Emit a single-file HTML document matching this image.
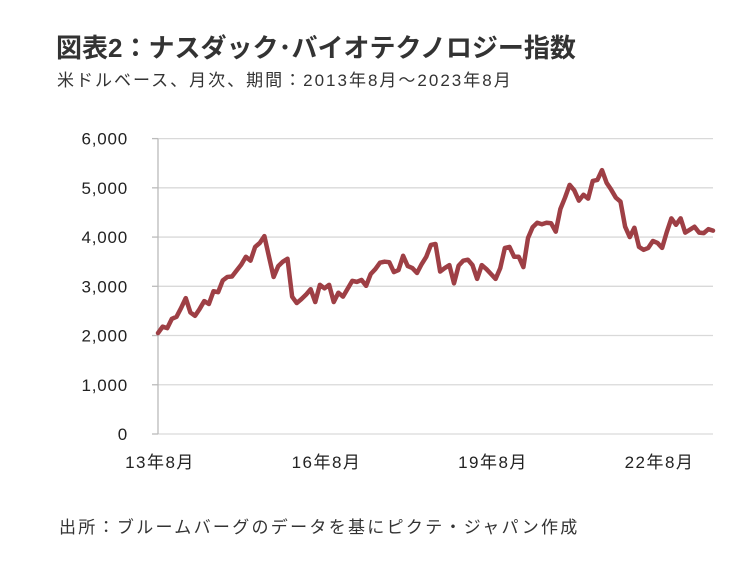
<!DOCTYPE html>
<html><head><meta charset="utf-8">
<style>
body{margin:0;background:#fff;width:735px;height:561px;overflow:hidden;font-family:"Liberation Sans","Noto Sans CJK JP",sans-serif;color:#222}
.t{position:absolute;white-space:nowrap}
</style></head><body>
<div class="t" style="left:56px;top:28px;font-size:26px;font-weight:bold;color:#333">図表2：ナスダック･バイオテクノロジー指数</div>
<div class="t" style="left:57px;top:66px;font-size:17px;color:#333;letter-spacing:2px">米ドルベース、月次、期間：2013年8月～2023年8月</div>
<svg id="chart" width="735" height="561" style="position:absolute;left:0;top:0"></svg>
<div class="t" style="left:59px;top:513px;font-size:17px;color:#333;letter-spacing:2.3px">出所：ブルームバーグのデータを基にピクテ・ジャパン作成</div>
<script>
const values=[2050,2180,2150,2340,2380,2560,2760,2470,2400,2540,2700,2640,2900,2880,3120,3190,3200,3320,3440,3600,3520,3800,3880,4020,3600,3190,3410,3500,3560,2790,2660,2740,2830,2940,2680,3030,2960,3030,2680,2870,2790,2950,3110,3090,3130,3010,3250,3350,3480,3500,3490,3290,3330,3620,3410,3370,3270,3450,3600,3840,3860,3300,3370,3430,3060,3420,3520,3540,3430,3150,3430,3350,3250,3150,3370,3780,3800,3600,3600,3390,3980,4200,4290,4260,4290,4280,4110,4570,4800,5060,4950,4740,4860,4780,5140,5160,5360,5100,4960,4800,4720,4210,4000,4190,3800,3740,3780,3920,3880,3780,4100,4380,4250,4380,4090,4150,4210,4090,4080,4160,4130];
const yTicks=[0,1000,2000,3000,4000,5000,6000];
const yTickLabels=["0","1,000","2,000","3,000","4,000","5,000","6,000"];
const xTickIdx=[0,36,72,108];
const xTickLabels=["13年8月","16年8月","19年8月","22年8月"];
const NS="http://www.w3.org/2000/svg";
const svg=document.getElementById('chart');
const x0=158,x1=713,y0=434,y1=138.6;
const X=i=>x0+(x1-x0)*i/(values.length-1);
const Y=v=>y0-(y0-y1)*v/6000;
function mk(t,a){const e=document.createElementNS(NS,t);for(const k in a)e.setAttribute(k,a[k]);svg.appendChild(e);return e;}
yTicks.forEach((v,k)=>{
  const g=mk('line',{x1:x0,x2:x1,y1:Y(v),y2:Y(v),stroke:'#d9d9d9','stroke-width':1.3});
  
  
  const tk=mk('line',{x1:x0-6,x2:x0,y1:Y(v),y2:Y(v),stroke:'#bbb','stroke-width':1.3});
  
  
  const t=mk('text',{x:128,y:Y(v)+6,'text-anchor':'end','font-size':17,fill:'#222','letter-spacing':'0.8','font-family':'Liberation Sans, sans-serif'});
  t.textContent=yTickLabels[k];
  
  
});
const ax=mk('line',{x1:x0,x2:x0,y1:y1,y2:y0,stroke:'#bbb','stroke-width':1.3});


xTickIdx.forEach((i,k)=>{
  const t=mk('text',{x:X(i)+2,y:468,'text-anchor':'middle','font-size':17,fill:'#222','letter-spacing':'1.5','font-family':'Liberation Sans, Noto Sans CJK JP, sans-serif'});
  t.textContent=xTickLabels[k];
  
  
});
const p=mk('polyline',{points:values.map((v,i)=>X(i)+','+Y(v)).join(' '),fill:'none',stroke:'#9e3f45','stroke-width':4.5,'stroke-linejoin':'round','stroke-linecap':'round'});


</script>
</body></html>
